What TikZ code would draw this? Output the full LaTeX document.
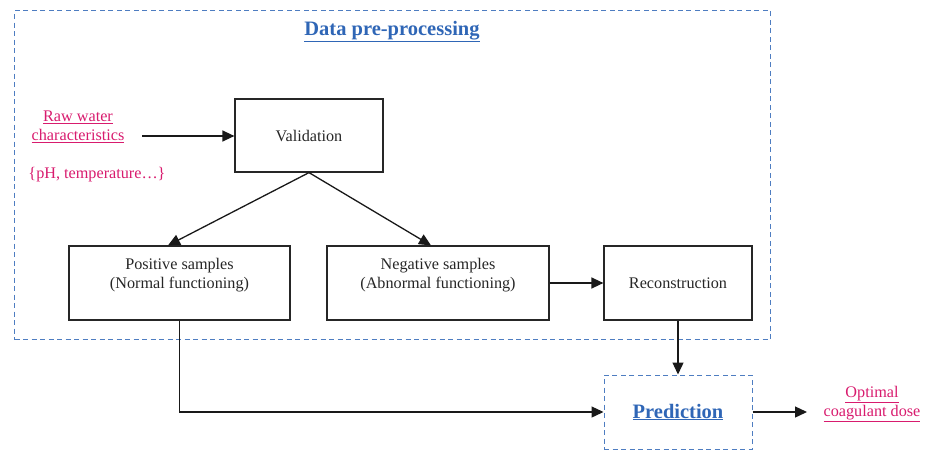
\documentclass[tikz,border=0pt]{standalone}
\usepackage{fontspec}
\setmainfont{Liberation Serif}
\usetikzlibrary{arrows.meta}
\definecolor{dpblue}{HTML}{2F66B6}
\definecolor{dppink}{HTML}{D81B6E}
\begin{document}
\begin{tikzpicture}[x=1pt,y=-1pt,
  every node/.style={font=\fontsize{16.2}{19}\selectfont, text=black!85},
  stepbox/.style={draw=black!85, line width=1.2pt, align=center, inner sep=0pt},
  groupbox/.style={draw=dpblue!85, dashed, line width=1pt, dash pattern=on 5pt off 3.5pt},
  conn/.style={draw=black!90, line width=1.3pt},
  arr/.style={conn, -{Triangle[length=12pt,width=11pt]}},
  pinktext/.style={text=dppink, align=center},
  bluetitle/.style={text=dpblue, font=\fontsize{20.5}{24}\selectfont\bfseries}
]
\useasboundingbox (0,0) rectangle (933,450);
% outer dashed group
\node[groupbox, minimum width=756pt, minimum height=329pt, anchor=north west] (pre) at (14,10) {};
\node[bluetitle] (title) at (392,31.5) {\underline{Data pre-processing}};
% input text
\node[pinktext] (raw) at (78,127) {\underline{Raw water}\\\underline{characteristics}};
\node[pinktext] (ph) at (97,175) {\{pH, temperature…\}};
% boxes
\node[stepbox, minimum width=148pt, minimum height=73pt] (val) at (309,135.5) {Validation};
\node[stepbox, minimum width=221pt, minimum height=74pt, text depth=20pt] (pos) at (179.5,283) {Positive samples\\(Normal functioning)};
\node[stepbox, minimum width=222pt, minimum height=74pt, text depth=20pt] (neg) at (438,283) {Negative samples\\(Abnormal functioning)};
\node[stepbox, minimum width=148pt, minimum height=74pt] (rec) at (678,283) {Reconstruction};
\node[groupbox, bluetitle, minimum width=148pt, minimum height=74pt] (pred) at (678,412) {\raisebox{-3pt}{\underline{Prediction}}};
\node[pinktext] (out) at (872,404) {\underline{Optimal}\\\underline{coagulant dose}};
% connectors
\coordinate (rawend) at (142,136);
\draw[arr] (rawend) -- (val.west |- rawend);
\draw[arr] (val.south) -- (pos.north -| 168,0);
\draw[arr] (val.south) -- (neg.north -| 431,0);
\draw[arr] (neg.east) -- (rec.west);
\draw[arr] (rec.south) -- (pred.north);
\draw[arr] (pos.south) |- (pred.west);
\coordinate (outend) at (807,412);
\draw[arr] (pred.east) -- (outend);
\end{tikzpicture}
\end{document}
